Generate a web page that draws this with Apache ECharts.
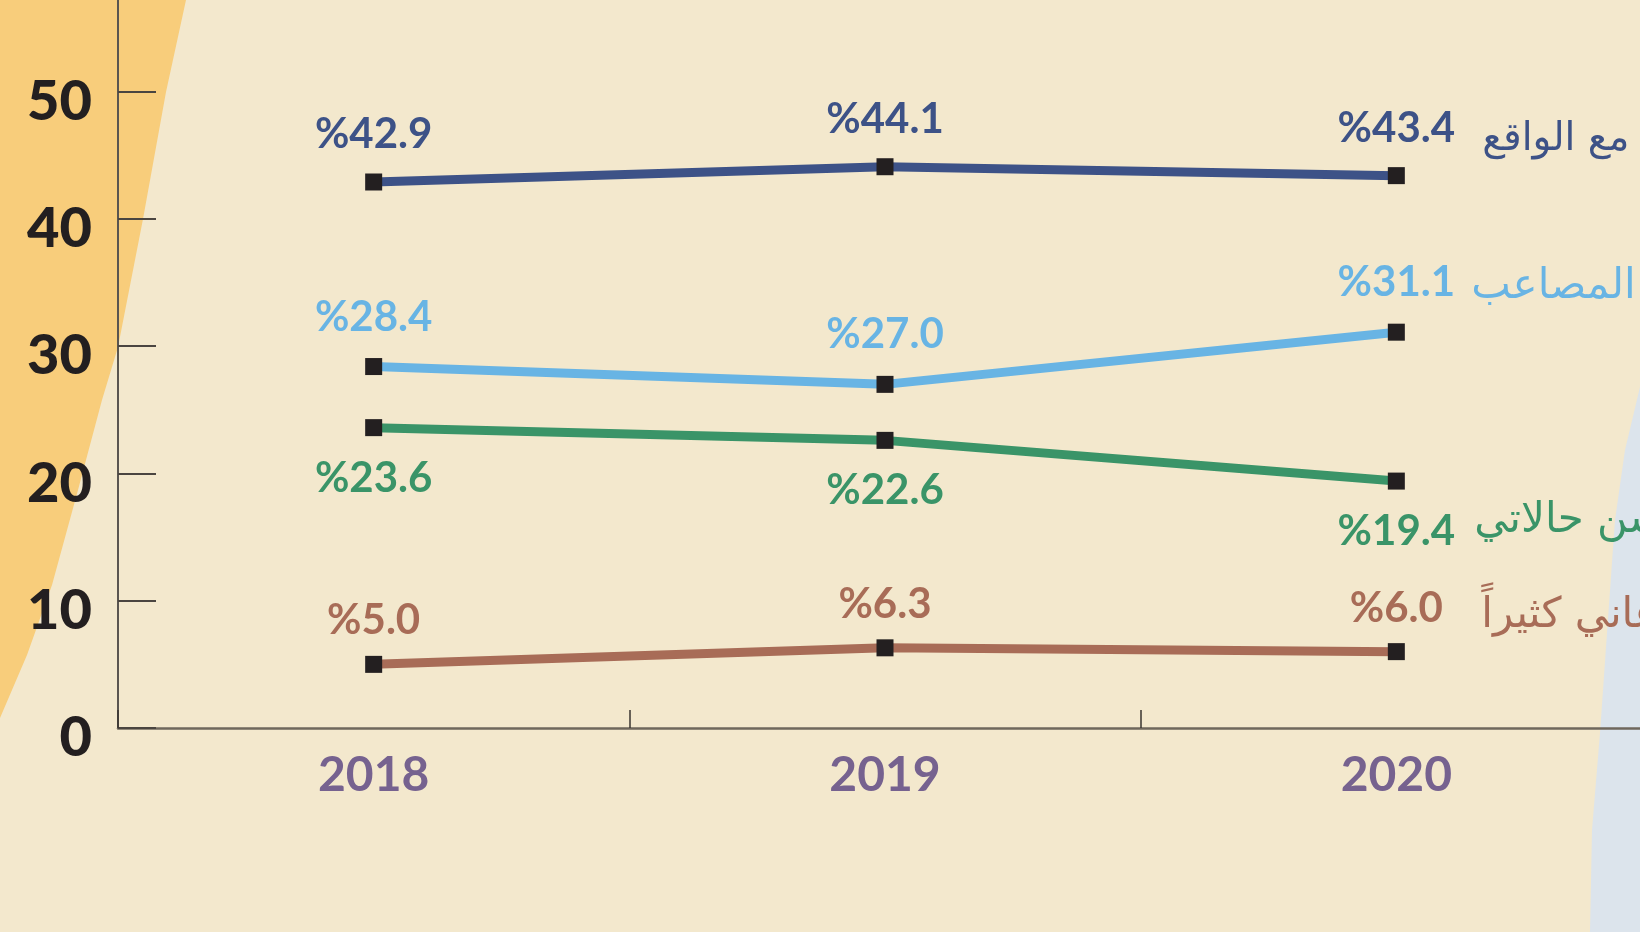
<!DOCTYPE html>
<html>
<head>
<meta charset="utf-8">
<script src="https://cdn.jsdelivr.net/npm/echarts@6/dist/echarts.min.js"></script>
<style>
  html, body { margin: 0; padding: 0; background: #f3e8cd; }
  #chart { width: 1640px; height: 932px; }
</style>
</head>
<body>
<div id="chart"></div>
<script>
// data
const years = ['2018', '2019', '2020'];
const yTicks = [0, 10, 20, 30, 40, 50];
const copingValues = [42.9, 44.1, 43.4];
const hardshipValues = [28.4, 27.0, 31.1];
const improvingValues = [23.6, 22.6, 19.4];
const sufferingValues = [5.0, 6.3, 6.0];
const seriesNames = ['مع الواقع', 'المصاعب', 'تحسن حالاتي', 'أعاني كثيراً'];
const seriesColors = ['#3d5287', '#68b4e4', '#3a9468', '#a86c57'];

const markColor = '#231f20';

const makeSeries = (name, values, color, pos, dist, nameOffset, nameSize) => ({
  name: name,
  type: 'line',
  data: values,
  symbol: 'rect',
  symbolSize: 17,
  itemStyle: { color: markColor },
  lineStyle: { color: color, width: 9 },
  label: {
    show: true,
    position: pos,
    distance: dist,
    color: color,
    fontFamily: 'Lato',
    fontWeight: 'bold',
    fontSize: 42,
    formatter: p => '%' + p.value.toFixed(1)
  },
  endLabel: {
    show: true,
    formatter: '{a}',
    distance: 0,
    offset: nameOffset,
    color: color,
    fontFamily: 'DejaVu Sans',
    fontSize: nameSize,
    align: 'left'
  },
  emphasis: { disabled: true }
});

const chart = echarts.init(document.getElementById('chart'));
chart.setOption({
  animation: false,
  backgroundColor: '#f3e8cd',
  graphic: [
    {
      type: 'polygon', z: -1, silent: true,
      shape: { points: [[0, 0], [186, 0], [166, 92], [143, 219], [118, 347], [102, 400], [78, 490], [52, 585], [27, 655], [0, 718]] },
      style: { fill: '#f8cd7b' }
    },
    {
      type: 'polygon', z: -1, silent: true,
      shape: { points: [[1640, 387], [1625, 450], [1615, 520], [1607, 633], [1600, 733], [1592, 830], [1590, 932], [1640, 932]] },
      style: { fill: '#dce4ec' }
    }
  ],
  grid: { left: 118, top: 0, width: 1534, bottom: 204, outerBoundsMode: 'none', containLabel: false },
  xAxis: {
    type: 'category',
    data: years,
    boundaryGap: true,
    axisLine: { lineStyle: { color: '#6f675c', width: 2.5 } },
    axisTick: { show: true, interval: 0, inside: true, length: 18, lineStyle: { color: '#3a3530', width: 1.5 } },
    axisLabel: { color: '#76628f', fontFamily: 'Lato', fontWeight: 'bold', fontSize: 48, margin: 24 },
    splitLine: { show: false }
  },
  yAxis: {
    type: 'value',
    min: 0,
    max: 57.2,
    interval: 10,
    axisLine: { show: true, lineStyle: { color: '#5a5550', width: 2 } },
    axisTick: { show: true, inside: true, length: 38, customValues: yTicks, lineStyle: { color: '#4a4540', width: 2 } },
    axisLabel: {
      customValues: yTicks,
      color: markColor, fontFamily: 'Lato', fontWeight: 900, fontSize: 56,
      margin: 26, verticalAlign: 'top', lineHeight: 20
    },
    splitLine: { show: false }
  },
  series: [
    makeSeries(seriesNames[0], copingValues, seriesColors[0], 'top', 18, [86, -36], 39),
    makeSeries(seriesNames[1], hardshipValues, seriesColors[1], 'top', 20, [75, -45], 42),
    makeSeries(seriesNames[2], improvingValues, seriesColors[2], 'bottom', 21, [78, 40], 42),
    makeSeries(seriesNames[3], sufferingValues, seriesColors[3], 'top', 14, [85, -36], 42)
  ]
});
</script>
</body>
</html>
